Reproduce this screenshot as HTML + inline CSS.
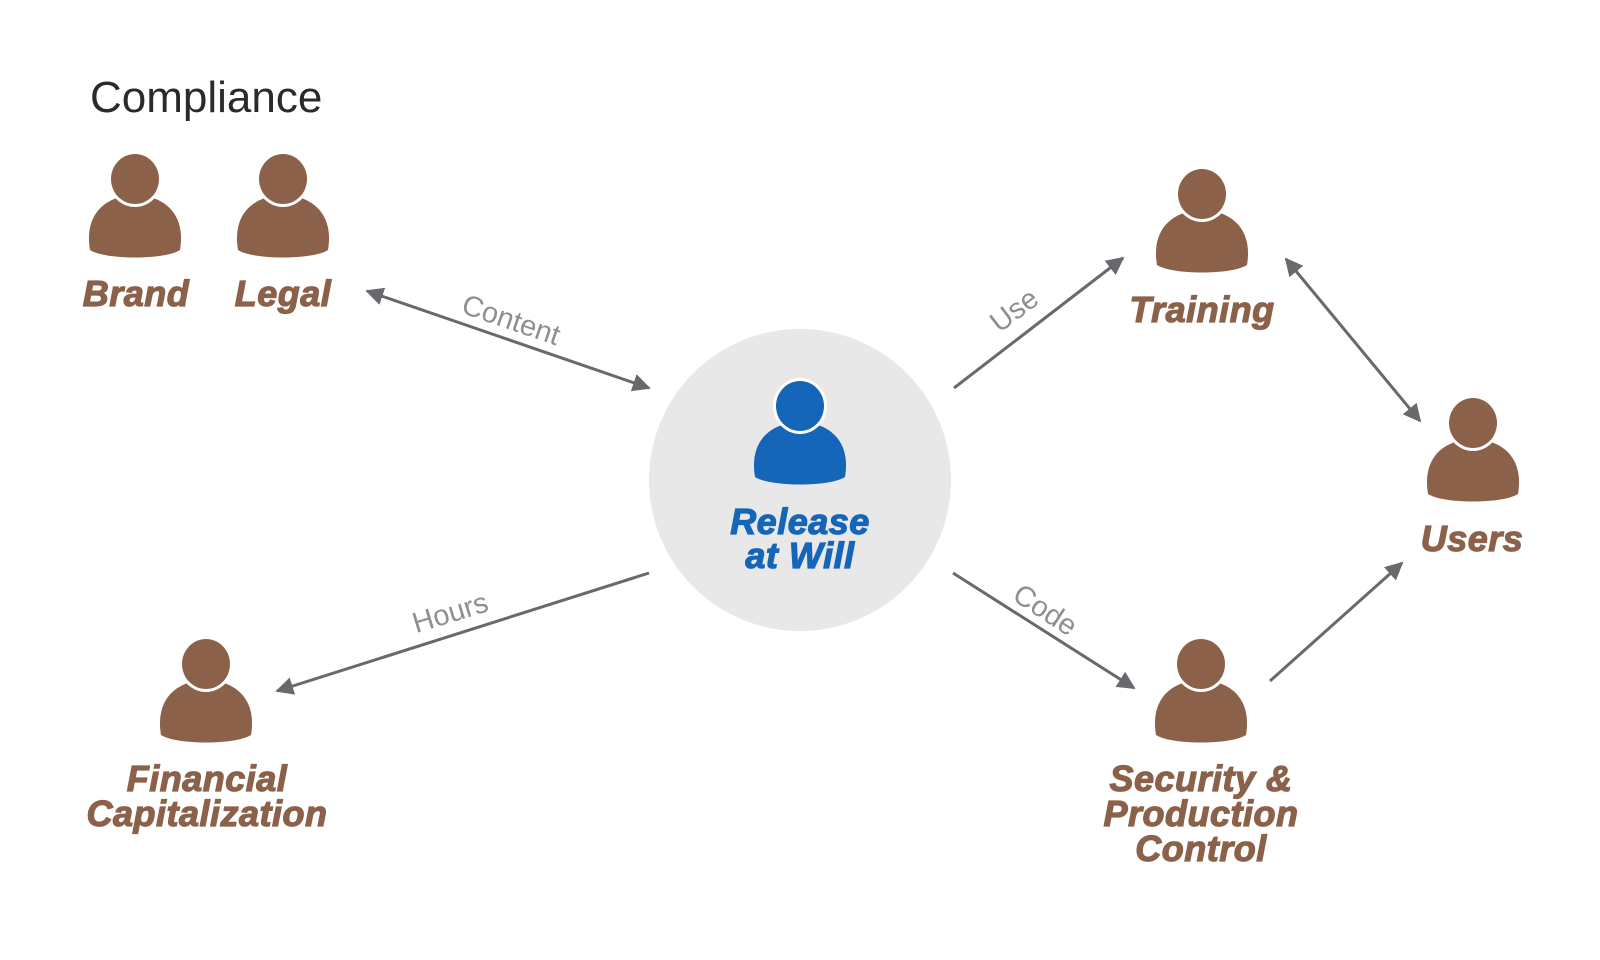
<!DOCTYPE html>
<html><head><meta charset="utf-8"><style>
html,body{margin:0;padding:0;background:#fff;width:1600px;height:960px;overflow:hidden}
svg{display:block}
.lb{font-family:"Liberation Sans",sans-serif;font-weight:bold;font-style:italic;font-size:36px;fill:#8b614a;stroke:#8b614a;stroke-width:1.2;text-anchor:middle;letter-spacing:0.5px}
.bl{fill:#1565b8;stroke:#1565b8}
.cl{font-family:"Liberation Sans",sans-serif;font-size:29px;fill:#8f8f8f;text-anchor:middle}
.ln{stroke:#68696c;stroke-width:3;fill:none}
</style></head><body>
<svg width="1600" height="960" viewBox="0 0 1600 960">
<defs>
<g id="p">
<path d="M-45 70 C-50 40 -36 24 -18 18 L18 18 C36 24 50 40 45 70 C30 80 -30 80 -45 70 Z"/>
<ellipse cx="0" cy="-1" rx="27" ry="28" fill="#fff"/>
<ellipse cx="0" cy="-1" rx="24" ry="25"/>
</g>
<marker id="a" viewBox="0 0 10 10" refX="9" refY="5" markerWidth="6" markerHeight="6" orient="auto-start-reverse" markerUnits="strokeWidth"><path d="M0 0 L10 5 L0 10 Z" fill="#68696c"/></marker>
</defs>
<circle cx="800" cy="480" r="151" fill="#e8e8e8"/>
<text x="90" y="112" font-family="Liberation Sans,sans-serif" font-size="44" fill="#2a2a2a">Compliance</text>
<g fill="#8b614a">
<use href="#p" x="135" y="180"/>
<use href="#p" x="283" y="180"/>
<use href="#p" x="1202" y="195"/>
<use href="#p" x="1473" y="424"/>
<use href="#p" x="1201" y="665"/>
<use href="#p" x="206" y="665"/>
</g>
<g fill="#1565b8"><use href="#p" x="800" y="407"/></g>
<text class="lb" x="136" y="306">Brand</text>
<text class="lb" x="283" y="306">Legal</text>
<text class="lb" x="1202" y="322">Training</text>
<text class="lb" x="1472" y="551">Users</text>
<text class="lb bl" x="800" y="534">Release</text>
<text class="lb bl" x="800" y="568">at Will</text>
<text class="lb" x="207" y="791">Financial</text>
<text class="lb" x="207" y="826">Capitalization</text>
<text class="lb" x="1201" y="791">Security &amp;</text>
<text class="lb" x="1201" y="826">Production</text>
<text class="lb" x="1201" y="861">Control</text>
<line class="ln" x1="367" y1="291" x2="649" y2="388" marker-start="url(#a)" marker-end="url(#a)"/>
<line class="ln" x1="954" y1="388" x2="1123" y2="258" marker-end="url(#a)"/>
<line class="ln" x1="1286" y1="259" x2="1420" y2="421" marker-start="url(#a)" marker-end="url(#a)"/>
<line class="ln" x1="649" y1="573" x2="277" y2="691" marker-end="url(#a)"/>
<line class="ln" x1="953" y1="573" x2="1134" y2="688" marker-end="url(#a)"/>
<line class="ln" x1="1270" y1="681" x2="1402" y2="563" marker-end="url(#a)"/>
<text class="cl" transform="translate(508,329) rotate(19)">Content</text>
<text class="cl" transform="translate(1020,318) rotate(-37)">Use</text>
<text class="cl" transform="translate(453,622) rotate(-17)">Hours</text>
<text class="cl" transform="translate(1040,618) rotate(33)">Code</text>
</svg>
</body></html>
